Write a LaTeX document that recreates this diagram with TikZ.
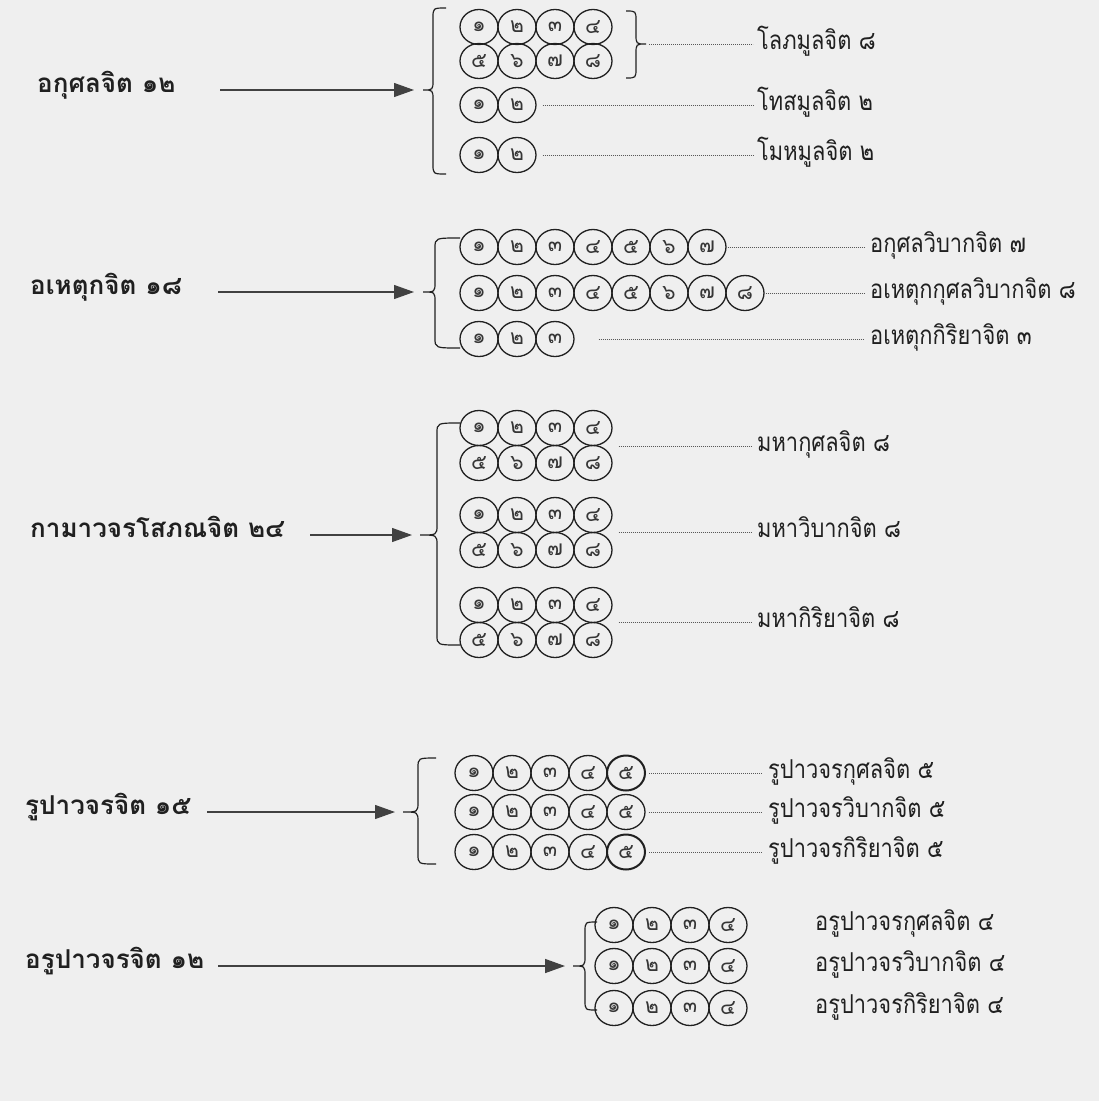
\documentclass[tikz,border=0pt]{standalone}
\usepackage{fontspec}
\setmainfont{Loma}[Script=Thai]
\newfontfamily\lomanarrow[Script=Thai,FakeStretch=0.84]{Loma}
\usetikzlibrary{shapes.geometric,arrows.meta}
\definecolor{bg}{RGB}{239,239,239}
\definecolor{ink}{RGB}{32,32,32}
\newcommand\Lfont{\fontsize{26}{30}\selectfont\bfseries}
\newcommand\Rfont{\lomanarrow\fontsize{26}{28}\selectfont}
\newcommand\Dfont{\fontsize{21}{22}\selectfont}
\newcommand\rt[1]{\raisebox{-3pt}{#1}}
% brace: tip x, body x, hook-end x, top y, mid y, bottom y
\newcommand\mybrace[6]{%
  \draw[br] (#3,#4) .. controls (#2,#4) .. (#2,#4+10) -- (#2,#5-10)
    .. controls (#2,#5) .. (#1,#5) .. controls (#2,#5) .. (#2,#5+10)
    -- (#2,#6-10) .. controls (#2,#6) .. (#3,#6);}
\newcommand\crow[4]{\foreach \d [count=\i] in {#4} {\node[cc] (#1\i) at ({#3+38*(\i-1)},#2) {\d};}}
\tikzset{
  cc/.style={ellipse, draw=ink, line width=1.3pt, minimum width=38pt, minimum height=35pt,
    inner sep=0pt, font=\Dfont, text=ink!90},
  lbl/.style={anchor=mid west, font=\Lfont, text=ink, inner sep=0pt},
  rlbl/.style={anchor=mid west, font=\Rfont, text=ink, inner sep=0pt},
  arr/.style={-{Triangle[length=20pt,width=14pt]}, line width=1.2pt, draw=ink!85},
  dotln/.style={line width=0.7pt, draw=ink!75, dash pattern=on 1.2pt off 0.8pt},
  br/.style={line width=1.2pt, draw=ink},
}
\begin{document}
\begin{tikzpicture}[x=1pt,y=-1pt]
\useasboundingbox (0,0) rectangle (1099,1101);
\fill[bg] (0,0) rectangle (1099,1101);

% ---------- Section 1
\node[lbl] (L1) at (37,90) {อกุศลจิต ๑๒};
\coordinate (A1) at (220,90);
\coordinate (T1) at (423,90);
\mybrace{423}{433}{446}{8}{90}{174}
\draw[arr, shorten >=9pt] (A1) -- (T1);
\crow{p1r1c}{27}{479}{๑,๒,๓,๔}
\crow{p1r2c}{61}{479}{๕,๖,๗,๘}
\crow{p1r3c}{105}{479}{๑,๒}
\crow{p1r4c}{155}{479}{๑,๒}
\coordinate (RT1) at (646,44);
\mybrace{646}{636}{626}{11}{44}{78}
\node[rlbl] (R11) at (757,44) {\rt{โลภมูลจิต ๘}};
\node[rlbl] (R12) at (757,105) {\rt{โทสมูลจิต ๒}};
\node[rlbl] (R13) at (757,155) {\rt{โมหมูลจิต ๒}};
\draw[dotln, shorten <=3pt, shorten >=4pt] (RT1) -- (R11.mid west);
\draw[dotln, shorten <=6pt, shorten >=4pt] (p1r3c2.east) -- (R12.mid west);
\draw[dotln, shorten <=6pt, shorten >=4pt] (p1r4c2.east) -- (R13.mid west);

% ---------- Section 2
\node[lbl] (L2) at (30,292) {อเหตุกจิต ๑๘};
\coordinate (A2) at (218,292);
\coordinate (T2) at (423,292);
\mybrace{423}{435}{460}{238}{292}{348}
\draw[arr, shorten >=9pt] (A2) -- (T2);
\crow{p2r1c}{247}{479}{๑,๒,๓,๔,๕,๖,๗}
\crow{p2r2c}{293}{479}{๑,๒,๓,๔,๕,๖,๗,๘}
\crow{p2r3c}{339}{479}{๑,๒,๓}
\node[rlbl] (R21) at (870,247) {\rt{อกุศลวิบากจิต ๗}};
\node[rlbl] (R22) at (870,293) {\rt{อเหตุกกุศลวิบากจิต ๘}};
\node[rlbl] (R23) at (870,339) {\rt{อเหตุกกิริยาจิต ๓}};
\draw[dotln, shorten <=1pt, shorten >=6pt] (p2r1c7.east) -- (R21.mid west);
\draw[dotln, shorten <=1pt, shorten >=6pt] (p2r2c8.east) -- (R22.mid west);
\draw[dotln, shorten <=24pt, shorten >=6pt] (p2r3c3.east) -- (R23.mid west);

% ---------- Section 3
\node[lbl] (L3) at (30,535) {กามาวจรโสภณจิต ๒๔};
\coordinate (A3) at (310,535);
\coordinate (T3) at (420,535);
\mybrace{420}{437}{460}{423}{535}{645}
\draw[arr, shorten >=8pt] (A3) -- (T3);
\crow{p3r1c}{428}{479}{๑,๒,๓,๔}
\crow{p3r2c}{463}{479}{๕,๖,๗,๘}
\crow{p3r3c}{515}{479}{๑,๒,๓,๔}
\crow{p3r4c}{550}{479}{๕,๖,๗,๘}
\crow{p3r5c}{605}{479}{๑,๒,๓,๔}
\crow{p3r6c}{640}{479}{๕,๖,๗,๘}
\node[rlbl] (R31) at (757,446) {\rt{มหากุศลจิต ๘}};
\node[rlbl] (R32) at (757,532) {\rt{มหาวิบากจิต ๘}};
\node[rlbl] (R33) at (757,622) {\rt{มหากิริยาจิต ๘}};
\draw[dotln, shorten <=6pt, shorten >=5pt] (p3r1c4.east |- R31.mid west) -- (R31.mid west);
\draw[dotln, shorten <=6pt, shorten >=5pt] (p3r3c4.east |- R32.mid west) -- (R32.mid west);
\draw[dotln, shorten <=6pt, shorten >=5pt] (p3r5c4.east |- R33.mid west) -- (R33.mid west);

% ---------- Section 4
\node[lbl] (L4) at (25,812) {รูปาวจรจิต ๑๕};
\coordinate (A4) at (207,812);
\coordinate (T4) at (403,812);
\mybrace{403}{418}{436}{758}{812}{864}
\draw[arr, shorten >=8pt] (A4) -- (T4);
\crow{p4r1c}{773}{474}{๑,๒,๓,๔}
\node[cc, line width=2pt] (p4r1c5) at (626,773) {๕};
\crow{p4r2c}{812}{474}{๑,๒,๓,๔,๕}
\crow{p4r3c}{852}{474}{๑,๒,๓,๔}
\node[cc, line width=2pt] (p4r3c5) at (626,852) {๕};
\node[rlbl] (R41) at (768,773) {\rt{รูปาวจรกุศลจิต ๕}};
\node[rlbl] (R42) at (768,812) {\rt{รูปาวจรวิบากจิต ๕}};
\node[rlbl] (R43) at (768,852) {\rt{รูปาวจรกิริยาจิต ๕}};
\draw[dotln, shorten <=3pt, shorten >=6pt] (p4r1c5.east) -- (R41.mid west);
\draw[dotln, shorten <=3pt, shorten >=6pt] (p4r2c5.east) -- (R42.mid west);
\draw[dotln, shorten <=3pt, shorten >=6pt] (p4r3c5.east) -- (R43.mid west);

% ---------- Section 5
\node[lbl] (L5) at (25,966) {อรูปาวจรจิต ๑๒};
\coordinate (A5) at (218,966);
\coordinate (T5) at (573,966);
\mybrace{573}{585}{597}{922}{966}{1010}
\draw[arr, line width=1.5pt, shorten >=8pt] (A5) -- (T5);
\crow{p5r1c}{925}{614}{๑,๒,๓,๔}
\crow{p5r2c}{966}{614}{๑,๒,๓,๔}
\crow{p5r3c}{1008}{614}{๑,๒,๓,๔}
\node[rlbl] (R51) at (815,925) {\rt{อรูปาวจรกุศลจิต ๔}};
\node[rlbl] (R52) at (815,966) {\rt{อรูปาวจรวิบากจิต ๔}};
\node[rlbl] (R53) at (815,1008) {\rt{อรูปาวจรกิริยาจิต ๔}};
\end{tikzpicture}
\end{document}
